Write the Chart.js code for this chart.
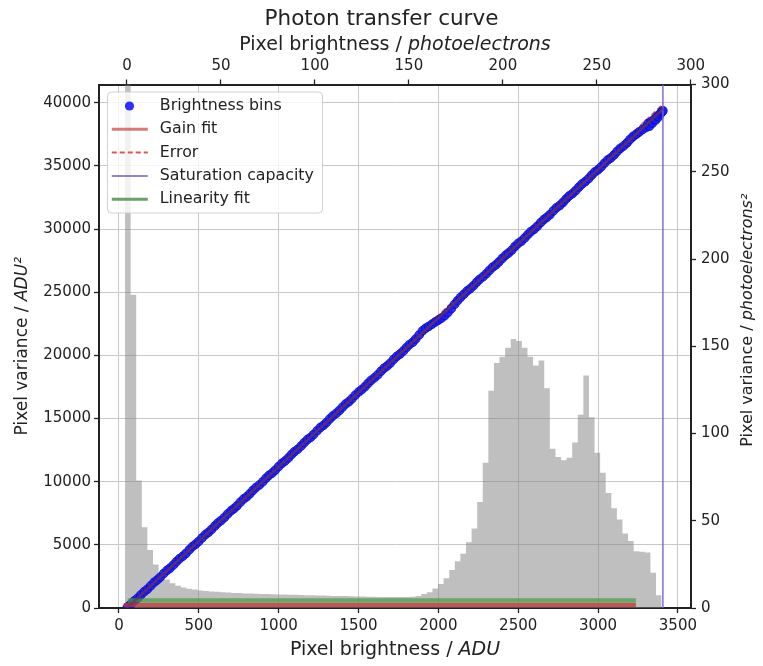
<!DOCTYPE html>
<html>
<head>
<meta charset="utf-8">
<script src="https://cdn.jsdelivr.net/npm/chart.js@4.4.1/dist/chart.umd.min.js"></script>
<style>
html,body{margin:0;padding:0;background:#ffffff;}
canvas{display:block;}
</style>
</head>
<body>
<canvas id="ptc" width="763" height="666"></canvas>
<script>
// ---------------- data ----------------
const titleText = 'Photon transfer curve';

// Brightness bins: mean pixel brightness (ADU) and variance (ADU^2)
const binMeanADU = [
  52, 58, 77, 96, 117, 137, 158, 178, 199, 221,
  240, 259, 281, 302, 320, 341, 360, 379, 400, 420,
  441, 461, 480, 499, 520, 541, 560, 580, 601, 619,
  640, 661, 681, 702, 720, 739, 760, 781, 801, 820,
  839, 858, 880, 901, 921, 940, 960, 979, 1000, 1021,
  1040, 1061, 1080, 1098, 1119, 1141, 1160, 1180, 1200, 1219,
  1241, 1262, 1281, 1300, 1320, 1339, 1361, 1381, 1400, 1420,
  1440, 1459, 1480, 1502, 1521, 1541, 1560, 1579, 1600, 1620,
  1641, 1661, 1680, 1699, 1720, 1740, 1760, 1781, 1800, 1819,
  1840, 1858, 1880, 1901, 1920, 1940, 1961, 1981, 2000, 2019,
  2040, 2060, 2081, 2102, 2120, 2139, 2160, 2181, 2200, 2220,
  2240, 2258, 2280, 2301, 2320, 2340, 2360, 2379, 2400, 2421,
  2440, 2460, 2480, 2499, 2520, 2541, 2560, 2579, 2600, 2620,
  2641, 2661, 2680, 2699, 2720, 2740, 2761, 2781, 2800, 2819,
  2840, 2860, 2880, 2899, 2920, 2941, 2960, 2980, 3000, 3019,
  3040, 3061, 3080, 3100, 3120, 3139, 3160, 3181, 3200, 3220,
  3240, 3259, 3280, 3301, 3312, 3322, 3332, 3341, 3352, 3362,
  3371, 3380, 3388, 3396, 3402, 3406];
const binVarianceADU2 = [
  40, 110, 330, 560, 780, 1040, 1290, 1490, 1760, 2040,
  2220, 2450, 2740, 2990, 3160, 3410, 3670, 3900, 4100, 4330,
  4620, 4870, 5050, 5270, 5550, 5810, 5990, 6220, 6500, 6730,
  6930, 7180, 7450, 7700, 7870, 8090, 8380, 8640, 8820, 9050,
  9310, 9540, 9750, 10000, 10280, 10510, 10690, 10920, 11200, 11460,
  11640, 11880, 12150, 12370, 12570, 12830, 13090, 13340, 13510, 13740,
  14040, 14300, 14470, 14690, 14970, 15210, 15420, 15650, 15910, 16160,
  16340, 16570, 16860, 17120, 17300, 17530, 17790, 18030, 18230, 18460,
  18750, 19000, 19170, 19390, 19680, 19930, 20110, 20350, 20620, 20860,
  21050, 21300, 21620, 21950, 22150, 22300, 22480, 22650, 22800, 22950,
  23150, 23400, 23700, 24050, 24330, 24600, 24850, 25110, 25290, 25520,
  25800, 26020, 26230, 26480, 26740, 26990, 27170, 27400, 27680, 27930,
  28110, 28340, 28630, 28860, 29050, 29300, 29560, 29800, 29990, 30230,
  30520, 30760, 30940, 31150, 31450, 31700, 31880, 32120, 32390, 32630,
  32810, 33050, 33330, 33570, 33760, 34000, 34280, 34530, 34700, 34920,
  35220, 35480, 35640, 35870, 36160, 36400, 36580, 36820, 37100, 37350,
  37520, 37700, 37900, 38050, 38350, 38150, 38500, 38400, 38700, 38650,
  38950, 38900, 39100, 39250, 39300, 39380];

// Fitted lines (end points)
const gainFitX = [50, 3410];
const gainFitY = [0, 39550];
const errorLowY = [0, 39150];
const errorHighY = [0, 39950];
const saturationADU = 3406;
const linearityFitX = [55, 3237];
const linearityFitY = [590, 590];
const residualX = [30, 3237];
const residualY = [240, 240];

// Pixel-brightness histogram (bin edges in ADU, heights scaled to the variance axis)
const histEdgesADU = [38, 73, 108, 143, 178, 213, 248, 283, 318, 353, 388, 423, 458, 493, 528, 563, 598, 633, 668, 703,
  738, 773, 808, 843, 878, 913, 948, 983, 1018, 1053, 1088, 1123, 1158, 1193, 1228, 1263, 1298, 1333, 1368, 1403,
  1438, 1473, 1508, 1543, 1578, 1613, 1648, 1683, 1718, 1753, 1788, 1823, 1858, 1893, 1928, 1963, 1998, 2033, 2068, 2103,
  2138, 2173, 2208, 2243, 2278, 2313, 2348, 2383, 2418, 2453, 2488, 2523, 2558, 2593, 2628, 2663, 2698, 2733, 2768, 2803,
  2838, 2873, 2908, 2943, 2978, 3013, 3048, 3083, 3118, 3153, 3188, 3223, 3258, 3293, 3328, 3363, 3398];
const histHeights = [52000, 24800, 10100, 6400, 4600, 3450, 2700, 2250, 1950, 1760, 1630, 1520, 1460, 1390, 1350, 1300, 1280, 1240, 1220, 1190,
  1180, 1150, 1140, 1120, 1100, 1100, 1080, 1070, 1060, 1040, 1040, 1020, 1010, 1000, 990, 990, 970, 960, 950, 950,
  930, 920, 910, 900, 900, 880, 880, 870, 870, 870, 880, 900, 960, 1100, 1250, 1550, 1900, 2350, 3000, 3700,
  4300, 5200, 6300, 8400, 11500, 17200, 19400, 19900, 20600, 21300, 21150, 20600, 19900, 19200, 19600, 17400, 12600, 11950, 11700, 11900,
  13100, 15300, 18400, 15100, 12300, 10700, 9100, 7900, 7000, 5900, 5300, 4500, 4450, 4400, 2800, 1000];

// Axes
const gainADUperE = 11.77;
const offsetADU = 50;
const xRangeADU = [-125, 3582];
const yRangeADU2 = [0, 41450];
const yRangeE2 = [0, 300];
const xTicksADU = [0, 500, 1000, 1500, 2000, 2500, 3000, 3500];
const xTicksE = [0, 50, 100, 150, 200, 250, 300];
const yTicksADU2 = [0, 5000, 10000, 15000, 20000, 25000, 30000, 35000, 40000];
const yTicksE2 = [0, 50, 100, 150, 200, 250, 300];

const axisTitles = {
  bottom: [['Pixel brightness / ', false], ['ADU', true]],
  top: [['Pixel brightness / ', false], ['photoelectrons', true]],
  left: [['Pixel variance / ', false], ['ADU\u00B2', true]],
  right: [['Pixel variance / ', false], ['photoelectrons\u00B2', true]]
};

// ---------------- chart ----------------
const FONT = 'DejaVu Sans';
Chart.defaults.font.family = FONT;
Chart.defaults.color = '#222';

const pts = (xs, ys) => xs.map((x, i) => ({x: x, y: ys[i]}));
const histPoints = histHeights.map((h, i) => ({x: histEdgesADU[i], y: h}));
histPoints.push({x: histEdgesADU[histEdgesADU.length - 1], y: 0});

const tickFont = {family: FONT, size: 15};
const setTicks = arr => (s => { s.ticks = arr.map(v => ({value: v})); });

const axisTitlePlugin = {
  id: 'axisTitles',
  afterDraw(chart) {
    const ctx = chart.ctx, ca = chart.chartArea;
    const draw = (parts, size, cx, cy, rot) => {
      ctx.save();
      ctx.translate(cx, cy);
      ctx.rotate(rot);
      ctx.fillStyle = '#222';
      ctx.textBaseline = 'middle';
      ctx.textAlign = 'left';
      let total = 0;
      parts.forEach(p => { ctx.font = (p[1] ? 'italic ' : '') + size + 'px "' + FONT + '"'; total += ctx.measureText(p[0]).width; });
      let x = -total / 2;
      parts.forEach(p => { ctx.font = (p[1] ? 'italic ' : '') + size + 'px "' + FONT + '"'; ctx.fillText(p[0], x, 0); x += ctx.measureText(p[0]).width; });
      ctx.restore();
    };
    const cx = (ca.left + ca.right) / 2, cy = (ca.top + ca.bottom) / 2;
    draw(axisTitles.top, 19, cx, 45, 0);
    draw(axisTitles.bottom, 19, cx, 650, 0);
    draw(axisTitles.left, 17, 23, cy, -Math.PI / 2);
    draw(axisTitles.right, 16, 748, cy - 26, -Math.PI / 2);
  }
};

const legendPlugin = {
  id: 'ptcLegend',
  afterDatasetsDraw(chart) {
    const ctx = chart.ctx, ca = chart.chartArea;
    const items = chart.data.datasets.filter(d => d.label);
    const x0 = ca.left + 8.5, y0 = ca.top + 7.5, w = 215, rowH = 23.3, h = 121, r = 4;
    ctx.save();
    ctx.beginPath();
    ctx.moveTo(x0 + r, y0);
    ctx.arcTo(x0 + w, y0, x0 + w, y0 + h, r);
    ctx.arcTo(x0 + w, y0 + h, x0, y0 + h, r);
    ctx.arcTo(x0, y0 + h, x0, y0, r);
    ctx.arcTo(x0, y0, x0 + w, y0, r);
    ctx.closePath();
    ctx.fillStyle = 'rgba(255,255,255,0.8)';
    ctx.fill();
    ctx.strokeStyle = 'rgba(204,204,204,0.9)';
    ctx.lineWidth = 1;
    ctx.stroke();
    items.forEach((d, i) => {
      const cy = y0 + 14 + i * rowH;
      if (d.showLine === false) {
        ctx.beginPath();
        ctx.arc(x0 + 22, cy, 4.6, 0, Math.PI * 2);
        ctx.fillStyle = d.backgroundColor;
        ctx.fill();
      } else {
        ctx.beginPath();
        ctx.setLineDash(d.legendDash || []);
        ctx.strokeStyle = d.legendColor || d.borderColor;
        ctx.lineWidth = d.legendWidth || d.borderWidth;
        ctx.moveTo(x0 + 4.3, cy);
        ctx.lineTo(x0 + 40.3, cy);
        ctx.stroke();
        ctx.setLineDash([]);
      }
      ctx.fillStyle = '#222';
      ctx.font = '15.8px "' + FONT + '"';
      ctx.textBaseline = 'middle';
      ctx.textAlign = 'left';
      ctx.fillText(d.label, x0 + 52.3, cy);
    });
    ctx.restore();
  }
};

new Chart(document.getElementById('ptc'), {
  type: 'scatter',
  data: {
    datasets: [
      {
        label: 'Brightness bins',
        data: pts(binMeanADU, binVarianceADU2),
        showLine: false,
        pointRadius: 4.4,
        pointBorderWidth: 0.8,
        backgroundColor: 'rgba(25,25,250,0.9)',
        borderColor: 'rgba(10,10,170,0.9)',
        order: 5
      },
      {
        label: 'Gain fit',
        data: pts(gainFitX, gainFitY),
        showLine: true, pointRadius: 0,
        borderColor: 'rgba(120,55,50,0.7)', borderWidth: 2.5,
        legendColor: 'rgba(205,110,110,0.9)', legendWidth: 3,
        order: 1
      },
      {
        label: 'Error',
        data: pts(gainFitX, errorLowY),
        showLine: true, pointRadius: 0,
        borderColor: 'rgba(225,70,50,0.8)', borderWidth: 1.5, borderDash: [5, 3],
        legendColor: 'rgba(215,70,60,0.9)', legendWidth: 2, legendDash: [5, 3],
        order: 6
      },
      {
        label: '',
        data: pts(gainFitX, errorHighY),
        showLine: true, pointRadius: 0,
        borderColor: 'rgba(225,70,50,0.8)', borderWidth: 1.5, borderDash: [5, 3],
        order: 6
      },
      {
        label: 'Saturation capacity',
        data: [{x: saturationADU, y: yRangeADU2[0]}, {x: saturationADU, y: yRangeADU2[1]}],
        showLine: true, pointRadius: 0,
        borderColor: 'rgba(125,100,220,0.95)', borderWidth: 1.5,
        legendColor: 'rgba(90,80,180,0.9)', legendWidth: 1.5,
        order: 2
      },
      {
        label: 'Linearity fit',
        data: pts(linearityFitX, linearityFitY),
        showLine: true, pointRadius: 0,
        borderColor: 'rgba(70,155,70,0.7)', borderWidth: 4.5,
        legendColor: 'rgba(90,150,90,0.9)', legendWidth: 3,
        order: 3
      },
      {
        label: '',
        data: pts(residualX, residualY),
        showLine: true, pointRadius: 0,
        borderColor: 'rgba(200,55,55,0.8)', borderWidth: 4,
        order: 3
      },
      {
        label: '',
        type: 'line',
        data: histPoints,
        showLine: true, stepped: true, pointRadius: 0,
        borderWidth: 0, borderColor: 'rgba(0,0,0,0)',
        backgroundColor: 'rgba(128,128,128,0.5)',
        fill: 'origin',
        order: 10
      }
    ]
  },
  options: {
    responsive: false,
    animation: false,
    devicePixelRatio: 1,
    layout: {padding: 0},
    plugins: {
      legend: {display: false},
      tooltip: {enabled: false},
      title: {
        display: true, text: titleText, color: '#222',
        font: {family: FONT, size: 21.5, weight: 'normal'},
        padding: {top: 6.5, bottom: 0}
      }
    },
    scales: {
      x: {
        type: 'linear', position: 'bottom',
        min: xRangeADU[0], max: xRangeADU[1],
        afterBuildTicks: setTicks(xTicksADU),
        afterFit: s => { s.height = 58; },
        ticks: {font: tickFont, color: '#222', padding: 4, callback: v => String(v)},
        grid: {color: '#c8c8c8', lineWidth: 1, drawTicks: true, tickLength: 5, tickColor: '#222', tickWidth: 1.3},
        border: {display: true, color: '#222', width: 2}
      },
      xTop: {
        type: 'linear', position: 'top',
        min: (xRangeADU[0] - offsetADU) / gainADUperE, max: (xRangeADU[1] - offsetADU) / gainADUperE,
        afterBuildTicks: setTicks(xTicksE),
        afterFit: s => { s.height = 52.2; },
        ticks: {font: tickFont, color: '#222', padding: 4, callback: v => String(v)},
        grid: {drawOnChartArea: false, drawTicks: true, tickLength: 5, tickColor: '#222', tickWidth: 1.3},
        border: {display: true, color: '#222', width: 2}
      },
      y: {
        type: 'linear', position: 'left',
        min: yRangeADU2[0], max: yRangeADU2[1],
        afterBuildTicks: setTicks(yTicksADU2),
        afterFit: s => { s.width = 99; },
        ticks: {font: tickFont, color: '#222', padding: 3, callback: v => String(v)},
        grid: {color: '#c8c8c8', lineWidth: 1, drawTicks: true, tickLength: 5, tickColor: '#222', tickWidth: 1.3},
        border: {display: true, color: '#222', width: 2}
      },
      yRight: {
        type: 'linear', position: 'right',
        min: yRangeE2[0], max: yRangeE2[1],
        afterBuildTicks: setTicks(yTicksE2),
        afterFit: s => { s.width = 72; },
        ticks: {font: tickFont, color: '#222', padding: 5, callback: v => String(v)},
        grid: {drawOnChartArea: false, drawTicks: true, tickLength: 5, tickColor: '#222', tickWidth: 1.3},
        border: {display: true, color: '#222', width: 2}
      }
    }
  },
  plugins: [legendPlugin, axisTitlePlugin]
});
</script>
</body>
</html>
